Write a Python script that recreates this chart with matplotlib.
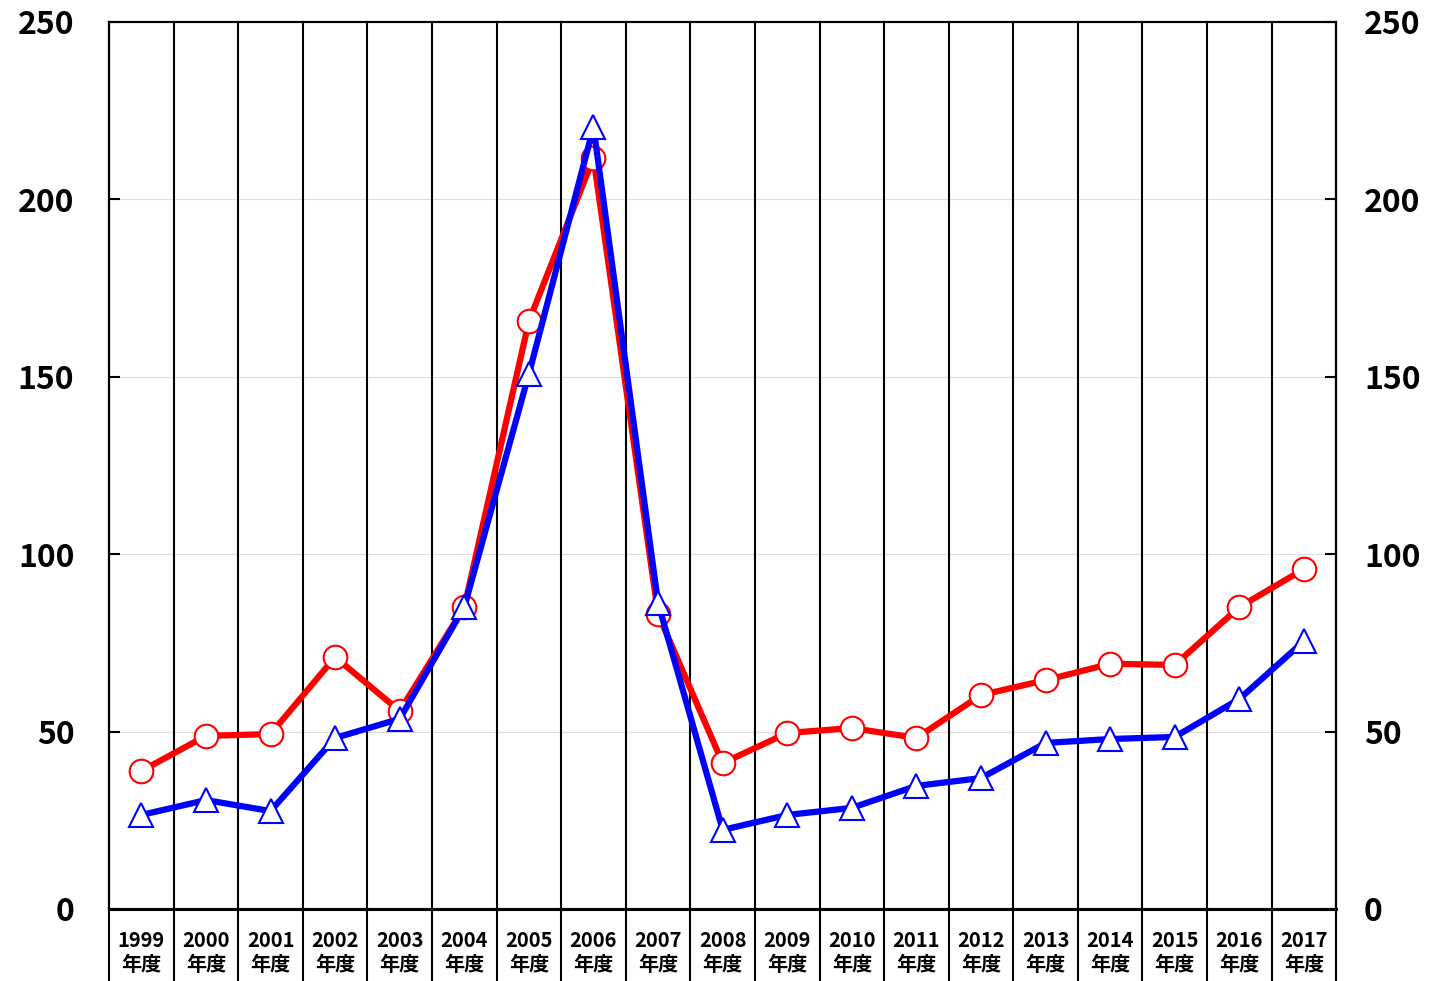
import matplotlib.pyplot as plt

plt.rcParams['font.family'] = ['Noto Sans CJK JP', 'DejaVu Sans']

# -------------------------------------------------
# DATA
# -------------------------------------------------
years = [str(y) for y in range(1999, 2018)]
red_values = [38.9, 48.8, 49.3, 71.0, 55.8, 85.1, 165.7, 211.7, 83.1, 41.1,
              49.6, 51.0, 48.2, 60.3, 64.5, 69.1, 68.8, 85.1, 95.8]
blue_values = [26.5, 30.7, 27.6, 48.2, 53.6, 85.1, 150.8, 220.4, 86.2, 22.3,
               26.5, 28.5, 34.7, 36.9, 46.8, 47.9, 48.5, 59.2, 75.5]
y_ticks = [0, 50, 100, 150, 200, 250]

# -------------------------------------------------
# PLOT
# -------------------------------------------------
fig = plt.figure(figsize=(14.37, 9.81), dpi=100)
ax = fig.add_axes([0.0759, 0.0734, 0.854, 0.9042])

x = list(range(len(years)))

# light horizontal grid
for v in y_ticks[1:-1]:
    ax.axhline(v, color="#dddddd", lw=0.8, zorder=0)

# category dividers, running down through the label area
for i in range(len(years) + 1):
    ax.plot([i - 0.5, i - 0.5], [-0.09, 1], color="black", lw=1.5,
            transform=ax.get_xaxis_transform(), clip_on=False, zorder=1)

ax.plot(x, red_values, color="#ff0000", lw=4.5, marker="o", markersize=17,
        markerfacecolor="white", markeredgecolor="#ff0000",
        markeredgewidth=1.5, zorder=3)
ax.plot(x, blue_values, color="#0000ff", lw=4.5, marker="^", markersize=17,
        markerfacecolor="white", markeredgecolor="#0000ff",
        markeredgewidth=1.5, zorder=4)

ax.set_xlim(-0.5, len(years) - 0.5)
ax.set_ylim(0, 250)

ax.set_xticks(x)
ax.set_xticklabels([y + "\n年度" for y in years], fontsize=14.5,
                   fontweight="bold", linespacing=1.2)
ax.tick_params(axis="x", length=0, pad=15)

ax.set_yticks(y_ticks)
ax.set_yticklabels([str(v) for v in y_ticks], fontsize=23, fontweight="bold")
ax.tick_params(axis="y", direction="in", length=8, width=1.5, pad=25)

# right-hand scale, same range
ax2 = ax.twinx()
ax2.set_ylim(0, 250)
ax2.set_yticks(y_ticks)
ax2.set_yticklabels([str(v) for v in y_ticks], fontsize=23, fontweight="bold")
ax2.tick_params(axis="y", direction="in", length=8, width=1.5, pad=20)

for a in (ax, ax2):
    for side in ["left", "right", "top"]:
        a.spines[side].set_linewidth(1.5)
    a.spines["bottom"].set_linewidth(2.2)

fig.savefig("out.png", dpi=100)
